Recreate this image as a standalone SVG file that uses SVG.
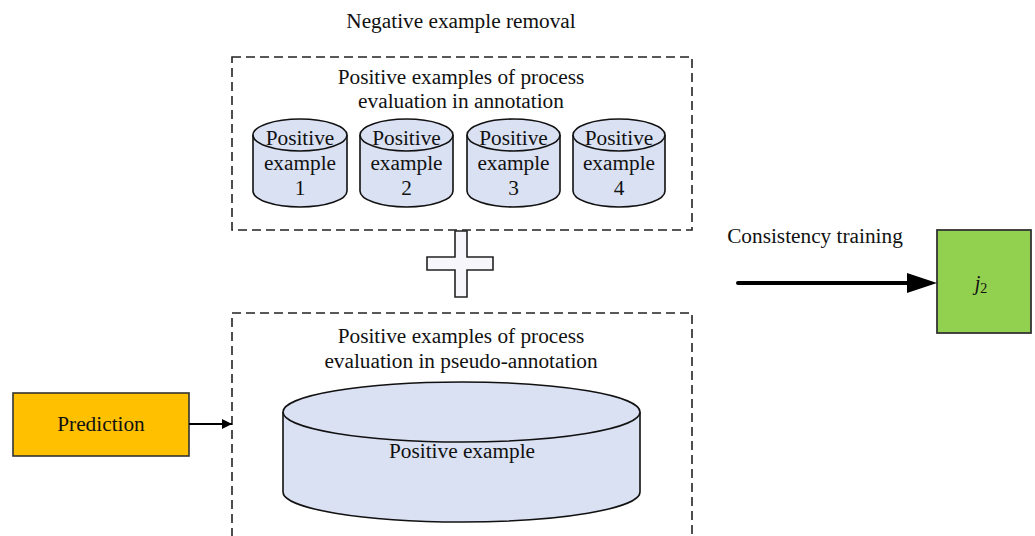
<svg xmlns="http://www.w3.org/2000/svg" width="1035" height="536" viewBox="0 0 1035 536">
<style>
text{font-family:"Liberation Serif","Times New Roman",serif;fill:#111;}
.t{font-size:21.3px;text-anchor:middle;}
.c{font-size:21.3px;text-anchor:middle;}
.dash{fill:none;stroke:#222;stroke-width:1.6;stroke-dasharray:9 5;}
.cyl{fill:#dae1f3;stroke:#111;stroke-width:1.6;}
</style>
<defs>
<marker id="ah" markerWidth="10" markerHeight="10" refX="10" refY="5" orient="auto" markerUnits="userSpaceOnUse" viewBox="0 0 10 10">
<path d="M0,0 L10,5 L0,10 Z" fill="#000"/>
</marker>
</defs>
<rect width="1035" height="536" fill="#fff"/>

<text class="t" x="461" y="28">Negative example removal</text>

<g id="annotation-group">
<rect class="dash" x="232" y="57" width="460" height="173"/>
<text class="t" x="461" y="84">Positive examples of process</text>
<text class="t" x="461" y="108">evaluation in annotation</text>
</g>

<g id="pos1">
<path class="cyl" d="M253,135 L253,191 A47,16 0 0 0 347,191 L347,135"/>
<ellipse class="cyl" cx="300" cy="135" rx="47" ry="16"/>
<text class="c" x="300" y="145">Positive</text>
<text class="c" x="300" y="170">example</text>
<text class="c" x="300" y="195">1</text>
</g>
<g id="pos2">
<path class="cyl" d="M360,135 L360,191 A46.5,16 0 0 0 453,191 L453,135"/>
<ellipse class="cyl" cx="406.5" cy="135" rx="46.5" ry="16"/>
<text class="c" x="406.5" y="145">Positive</text>
<text class="c" x="406.5" y="170">example</text>
<text class="c" x="406.5" y="195">2</text>
</g>
<g id="pos3">
<path class="cyl" d="M467,135 L467,191 A46.5,16 0 0 0 560,191 L560,135"/>
<ellipse class="cyl" cx="513.5" cy="135" rx="46.5" ry="16"/>
<text class="c" x="513.5" y="145">Positive</text>
<text class="c" x="513.5" y="170">example</text>
<text class="c" x="513.5" y="195">3</text>
</g>
<g id="pos4">
<path class="cyl" d="M573,135 L573,191 A46,16 0 0 0 665,191 L665,135"/>
<ellipse class="cyl" cx="619" cy="135" rx="46" ry="16"/>
<text class="c" x="619" y="145">Positive</text>
<text class="c" x="619" y="170">example</text>
<text class="c" x="619" y="195">4</text>
</g>

<g id="plus">
<path d="M455,231 L467,231 L467,257 L493,257 L493,270 L467,270 L467,297 L455,297 L455,270 L427,270 L427,257 L455,257 Z" fill="#f7f7fb" stroke="#222" stroke-width="1.6"/>
</g>

<g id="pseudo-group">
<rect class="dash" x="232" y="313" width="460" height="240"/>
<text class="t" x="461" y="343">Positive examples of process</text>
<text class="t" x="461" y="368">evaluation in pseudo-annotation</text>
</g>

<g id="pos-big">
<path class="cyl" d="M283,412 L283,492 A178.5,30 0 0 0 640,492 L640,412"/>
<ellipse class="cyl" cx="461.5" cy="412" rx="178.5" ry="30"/>
<text class="c" x="462" y="458">Positive example</text>
</g>

<g id="prediction">
<rect x="13" y="393" width="176" height="63" fill="#ffc000" stroke="#333" stroke-width="1.6"/>
<text class="c" x="101" y="431">Prediction</text>
</g>

<g id="j2">
<rect x="937" y="230" width="94" height="103" fill="#92d050" stroke="#333" stroke-width="1.8"/>
<text x="981" y="290" font-size="20" text-anchor="middle"><tspan font-style="italic">j</tspan><tspan font-size="14" dy="3">2</tspan></text>
</g>

<text class="t" x="815" y="243">Consistency training</text>

<g id="connectors">
<line x1="189" y1="424" x2="232" y2="424" stroke="#000" stroke-width="2" marker-end="url(#ah)"/>
<line x1="738" y1="283" x2="909" y2="283" stroke="#000" stroke-width="4" stroke-linecap="round"/>
<path d="M907,273 L937,283 L907,293 Z" fill="#000"/>
</g>
</svg>
